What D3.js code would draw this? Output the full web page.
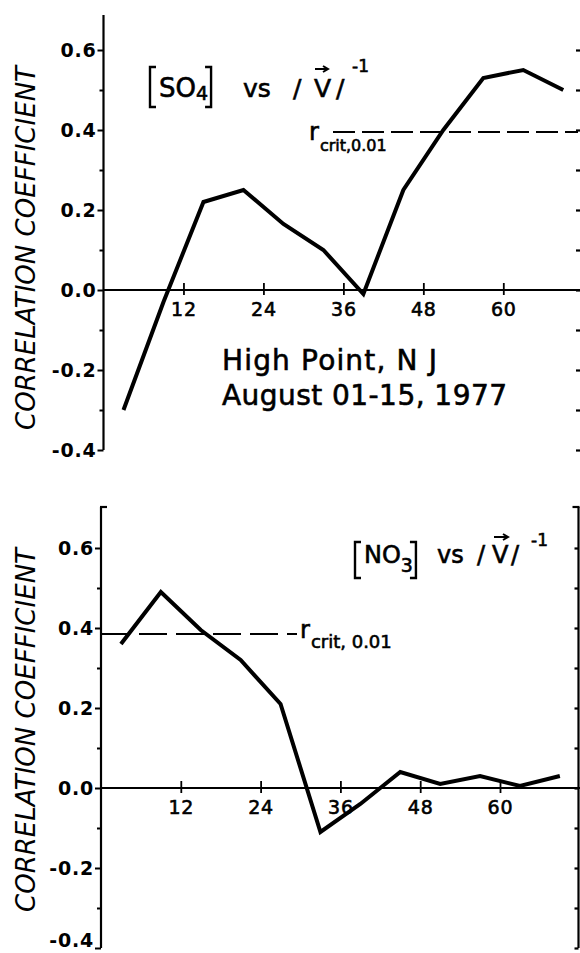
<!DOCTYPE html>
<html>
<head>
<meta charset="utf-8">
<script src="https://cdn.jsdelivr.net/npm/d3@7"></script>
<style>
  html, body { margin: 0; padding: 0; background: #fff; }
  svg { display: block; }
  text { font-family: "DejaVu Sans", sans-serif; fill: #000; }
  .heavy { stroke: #000; stroke-width: 0.6; }
</style>
</head>
<body>
<svg id="chart" width="580" height="953"></svg>
<script>
// Lag (hours) at which each correlation was computed
const lagHours = [3, 9, 15, 21, 27, 33, 39, 45, 51, 57, 63, 69];
// Correlation of sulfate with inverse wind speed
const so4Corr = [-0.30, -0.03, 0.22, 0.25, 0.165, 0.10, -0.01, 0.25, 0.40, 0.53, 0.55, 0.50];
// Correlation of nitrate with inverse wind speed
const no3Corr = [0.36, 0.49, 0.395, 0.32, 0.21, -0.11, -0.04, 0.04, 0.01, 0.03, 0.005, 0.03];
// Critical r at the 0.01 level
const rCritSO4 = 0.395;
const rCritNO3 = 0.385;
// Axis ticks
const xTicks = [12, 24, 36, 48, 60];
const yMajor = [-0.4, -0.2, 0.0, 0.2, 0.4, 0.6];
const yMinor = [-0.3, -0.1, 0.1, 0.3, 0.5];
const yAll = [-0.4, -0.3, -0.2, -0.1, 0.0, 0.1, 0.2, 0.3, 0.4, 0.5, 0.6];

const svg = d3.select("#chart");
const fmt = d => d.toFixed(1).replace("\u2212", "-");

function panel(cfg) {
  const g = svg.append("g");
  const x = d3.scaleLinear([0, 60], [cfg.x0, cfg.x60]);
  const y = d3.scaleLinear([-0.4, 0.6], [cfg.yBot, cfg.yTop]);

  // left axis line
  g.append("line")
    .attr("x1", cfg.x0).attr("x2", cfg.x0)
    .attr("y1", cfg.axisTop).attr("y2", y(-0.4))
    .attr("stroke", "#000").attr("stroke-width", 2.2);
  if (cfg.hooks) {
    g.append("line")
      .attr("x1", cfg.x0 - 1).attr("x2", cfg.x0 + 6)
      .attr("y1", cfg.axisTop).attr("y2", cfg.axisTop)
      .attr("stroke", "#000").attr("stroke-width", 2.2);
  }

  // left major ticks with labels
  const left = g.append("g")
    .attr("transform", `translate(${cfg.x0},0)`)
    .call(d3.axisLeft(y).tickValues(yMajor).tickFormat(fmt).tickSize(6).tickPadding(1));
  left.select(".domain").remove();
  left.selectAll("line").attr("stroke", "#000").attr("stroke-width", 2);
  left.selectAll("text")
    .attr("font-size", 19).attr("font-weight", "bold")
    .attr("letter-spacing", 0.8)
    .attr("font-family", "DejaVu Sans");
  if (cfg.lowLabelShift) {
    left.selectAll(".tick").filter(d => d === -0.4).select("text")
      .attr("y", -cfg.lowLabelShift);
  }

  // left minor ticks
  const leftMinor = g.append("g")
    .attr("transform", `translate(${cfg.x0},0)`)
    .call(d3.axisLeft(y).tickValues(yMinor).tickFormat("").tickSize(4));
  leftMinor.select(".domain").remove();
  leftMinor.selectAll("line").attr("stroke", "#000").attr("stroke-width", 2);

  // right-hand ticks
  const right = g.append("g")
    .attr("transform", `translate(${cfg.xRight},0)`)
    .call(d3.axisLeft(y).tickValues(yAll).tickFormat("").tickSize(4));
  right.select(".domain").remove();
  right.selectAll("line").attr("stroke", "#000").attr("stroke-width", 2.2);
  if (cfg.hooks) {
    g.append("line")
      .attr("x1", cfg.xRight).attr("x2", cfg.xRight)
      .attr("y1", cfg.axisTop).attr("y2", y(-0.4))
      .attr("stroke", "#000").attr("stroke-width", 2.2);
    g.append("line")
      .attr("x1", cfg.xRight + 1).attr("x2", cfg.xRight - 6)
      .attr("y1", cfg.axisTop).attr("y2", cfg.axisTop)
      .attr("stroke", "#000").attr("stroke-width", 2.2);
  }

  // zero line with lag ticks
  g.append("line")
    .attr("x1", cfg.x0).attr("x2", 580)
    .attr("y1", y(0)).attr("y2", y(0))
    .attr("stroke", "#000").attr("stroke-width", 2);
  const bottom = g.append("g")
    .attr("transform", `translate(0,${y(0)})`)
    .call(d3.axisBottom(x).tickValues(xTicks).tickSize(5).tickPadding(8));
  bottom.select(".domain").remove();
  bottom.selectAll("line").attr("y1", -7).attr("stroke", "#000").attr("stroke-width", 1.8);
  bottom.selectAll("text")
    .attr("font-size", 19).attr("letter-spacing", 0.8)
    .attr("font-family", "DejaVu Sans")
    .attr("class", "heavy");

  // critical-r dashed line
  g.append("line")
    .attr("x1", cfg.critX1).attr("x2", cfg.critX2)
    .attr("y1", y(cfg.rCrit)).attr("y2", y(cfg.rCrit))
    .attr("stroke", "#000").attr("stroke-width", 2)
    .attr("stroke-dasharray", cfg.dash);

  // correlation curve
  const line = d3.line().x((d, i) => x(lagHours[i])).y(d => y(d));
  g.append("path")
    .datum(cfg.values)
    .attr("d", line)
    .attr("fill", "none").attr("stroke", "#000")
    .attr("stroke-width", 4).attr("stroke-linejoin", "miter");

  // y-axis title
  g.append("text")
    .attr("transform", `translate(35,${cfg.titleCy}) rotate(-90)`)
    .attr("text-anchor", "middle")
    .attr("font-size", 26).attr("font-style", "italic")
    .attr("textLength", 364).attr("lengthAdjust", "spacing")
    .text("CORRELATION  COEFFICIENT");

  return { g, x, y };
}

function rcritLabel(g, x, y, subSize, rSize, subText, subDx, subDy) {
  const t = g.append("text").attr("x", x).attr("y", y).attr("font-size", rSize)
    .attr("class", "heavy");
  t.append("tspan").text("r");
  t.append("tspan").attr("dx", subDx).attr("dy", subDy)
    .attr("font-size", subSize).text(subText);
}

function speciesLabel(g, x0, baseY, species, sub, cfg) {
  // brackets around the species
  const bw = cfg.bracketW, bh = cfg.bracketH;
  const top = baseY - cfg.bracketUp;
  const b = g.append("path")
    .attr("fill", "none").attr("stroke", "#000").attr("stroke-width", 2.4);
  const t = g.append("text").attr("x", x0 + 9).attr("y", baseY).attr("font-size", cfg.size)
    .attr("class", "heavy");
  t.append("tspan").text(species);
  t.append("tspan").attr("font-size", cfg.subSize).attr("dy", cfg.subDy).text(sub);
  const w = t.node().getComputedTextLength();
  const x1 = x0 + 9 + w + 3;
  b.attr("d", `M${x0 + bw},${top} H${x0} V${top + bh} H${x0 + bw} M${x1 - bw},${top} H${x1} V${top + bh} H${x1 - bw}`);
  return x1;
}

function heavyText(g, x, y, size, str) {
  return g.append("text").attr("x", x).attr("y", y).attr("font-size", size)
    .attr("class", "heavy").text(str);
}

// upper panel: sulfate
const p1 = panel({
  x0: 103.5, x60: 503.3, yTop: 50, yBot: 450, axisTop: 15,
  xRight: 580, hooks: false,
  rCrit: rCritSO4, critX1: 333, critX2: 578, dash: "22 7",
  values: so4Corr, titleCy: 248
});
{
  speciesLabel(p1.g, 150, 97, "SO", "4",
    { size: 26, subSize: 19, subDy: 3, bracketW: 6, bracketH: 40, bracketUp: 30 });
  heavyText(p1.g, 243, 97, 25, "vs");
  heavyText(p1.g, 293, 97, 25, "/");
  heavyText(p1.g, 314, 97, 25, "V");
  p1.g.append("path").attr("d", "M315,69 H328 M323,66 L328,69 L323,72")
    .attr("fill", "none").attr("stroke", "#000").attr("stroke-width", 2);
  heavyText(p1.g, 336, 97, 25, "/");
  heavyText(p1.g, 352, 72, 17, "-1");
  rcritLabel(p1.g, 309, 140, 16, 24, "crit,0.01", 1, 11);
  heavyText(p1.g, 222, 370, 28, "High Point, N J")
    .attr("textLength", 215).attr("lengthAdjust", "spacing");
  heavyText(p1.g, 222, 405, 28, "August 01-15, 1977")
    .attr("textLength", 285).attr("lengthAdjust", "spacing");
}

// lower panel: nitrate
const p2 = panel({
  x0: 101, x60: 500, yTop: 548, yBot: 948, axisTop: 507,
  xRight: 578.5, hooks: true, lowLabelShift: 8,
  rCrit: rCritNO3, critX1: 102, critX2: 297, dash: "28 9",
  values: no3Corr, titleCy: 730
});
{
  speciesLabel(p2.g, 355, 563, "NO", "3",
    { size: 24, subSize: 19, subDy: 9, bracketW: 6, bracketH: 36, bracketUp: 21 });
  heavyText(p2.g, 437, 563, 24, "vs");
  heavyText(p2.g, 477, 563, 24, "/");
  heavyText(p2.g, 492, 563, 24, "V");
  p2.g.append("path").attr("d", "M494,537 H508 M503,534 L508,537 L503,540")
    .attr("fill", "none").attr("stroke", "#000").attr("stroke-width", 2);
  heavyText(p2.g, 511, 563, 24, "/");
  heavyText(p2.g, 531, 546, 17, "-1");
  rcritLabel(p2.g, 300, 638, 18, 24, "crit, 0.01", 1, 10);
}
</script>
</body>
</html>
